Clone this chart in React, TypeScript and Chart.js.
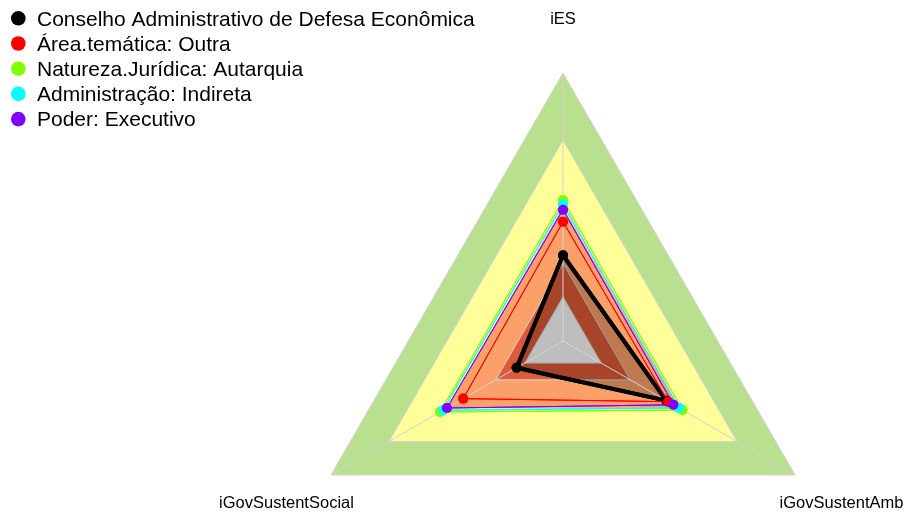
import React, { useEffect, useRef } from "react";
import { Chart, registerables } from "chart.js";

Chart.register(...registerables);

// ---- data ----
const axisLabels = ["iES", "iGovSustentAmb", "iGovSustentSocial"];
const seriesNames = [
  "Conselho Administrativo de Defesa Econômica",
  "Área.temática: Outra",
  "Natureza.Jurídica: Autarquia",
  "Administração: Indireta",
  "Poder: Executivo",
];
const orgaoValues = [0.32, 0.445, 0.2];
const areaValues = [0.445, 0.453, 0.43];
const naturezaValues = [0.526, 0.515, 0.53];
const administracaoValues = [0.51, 0.499, 0.517];
const poderValues = [0.49, 0.476, 0.5];
const seriesValues = [orgaoValues, areaValues, naturezaValues, administracaoValues, poderValues];
const seriesColors = ["#000000", "#FF0000", "#80FF00", "#00FFFF", "#8000FF"];

const bandLevels = [1, 0.75, 0.5, 0.29, 0.165];
const bandColors = ["#B9E08F", "#FFFF99", "#FCA069", "#DC5A37", "#FAFAFA"];

const FONT = '"Liberation Sans", Arial, sans-serif';

// Re-draw the series strokes and points above the (z=1) angle lines
const seriesOnTopPlugin = {
  id: "seriesOnTop",
  afterDraw(chart: any) {
    const ctx = chart.ctx;
    for (let i = 0; i < seriesNames.length; i++) {
      const meta = chart.getDatasetMeta(i);
      ctx.save();
      meta.dataset.draw(ctx, chart.chartArea);
      ctx.restore();
      meta.data.forEach((pt: any) => {
        ctx.save();
        pt.draw(ctx, chart.chartArea);
        ctx.restore();
      });
    }
  },
};

const legendPlugin = {
  id: "customLegend",
  afterDraw(chart: any) {
    const ctx = chart.ctx;
    ctx.save();
    ctx.font = `21px ${FONT}`;
    ctx.textAlign = "left";
    ctx.textBaseline = "alphabetic";
    seriesNames.forEach((name, i) => {
      const cy = 18.3 + i * 25.2;
      ctx.beginPath();
      ctx.arc(18.3, cy, 7.3, 0, Math.PI * 2);
      ctx.fillStyle = seriesColors[i];
      ctx.fill();
      ctx.fillStyle = "#000";
      ctx.fillText(name, 37, 25.5 + i * 25.1);
    });
    ctx.restore();
  },
};

const axisLabelPlugin = {
  id: "axisLabels",
  afterDraw(chart: any) {
    const scale = chart.scales.r;
    const ctx = chart.ctx;
    ctx.save();
    ctx.font = `16.5px ${FONT}`;
    ctx.textAlign = "center";
    ctx.textBaseline = "middle";
    ctx.fillStyle = "#000";
    axisLabels.forEach((lab, i) => {
      const p = scale.getPointPositionForValue(i, 1.2);
      ctx.fillText(lab, p.x + (i === 2 ? 2 : 0), p.y + (i === 0 ? 0 : 2));
    });
    ctx.restore();
  },
};

export default function App() {
  const ref = useRef<HTMLCanvasElement>(null);

  useEffect(() => {
    const canvas = ref.current;
    if (!canvas) return;

    const bandDatasets = bandLevels.map((lvl, i) => ({
      label: "band" + i,
      data: axisLabels.map(() => lvl),
      backgroundColor: bandColors[i],
      borderColor: "#D3D3D3",
      borderWidth: 1,
      pointRadius: 0,
      fill: true,
      order: 10 + (bandLevels.length - i),
    }));

    const seriesDatasets = seriesNames.map((name, i) => ({
      label: name,
      data: seriesValues[i],
      borderColor: seriesColors[i],
      backgroundColor: i === 0 ? "rgba(0,0,0,0.24)" : "transparent",
      borderWidth: i === 0 ? 4 : 1,
      borderJoinStyle: "round" as const,
      pointRadius: 5,
      pointBorderWidth: 0,
      pointBackgroundColor: seriesColors[i],
      pointBorderColor: seriesColors[i],
      fill: i === 0,
      order: seriesNames.length - i,
    }));

    const chart = new Chart(canvas, {
      type: "radar",
      data: {
        labels: axisLabels,
        datasets: [...seriesDatasets, ...bandDatasets] as any,
      },
      options: {
        responsive: false,
        maintainAspectRatio: false,
        animation: false,
        devicePixelRatio: 1,
        layout: { padding: { top: 73, left: 222, right: 0, bottom: 11 } },
        elements: { line: { tension: 0 } },
        plugins: {
          legend: { display: false },
          tooltip: { enabled: false },
        },
        scales: {
          r: {
            min: 0,
            max: 1,
            ticks: { display: false },
            grid: { display: false, z: 1 },
            angleLines: { display: true, color: "#D3D3D3", lineWidth: 1 },
            pointLabels: { display: false },
          },
        },
      } as any,
      plugins: [seriesOnTopPlugin, legendPlugin, axisLabelPlugin],
    });

    return () => chart.destroy();
  }, []);

  return (
    <div
      style={{
        position: "fixed",
        left: 0,
        top: 0,
        width: 905,
        height: 515,
        overflow: "hidden",
        background: "#fff",
      }}
    >
      <canvas ref={ref} width={905} height={620} style={{ display: "block", width: 905, height: 620 }} />
    </div>
  );
}
